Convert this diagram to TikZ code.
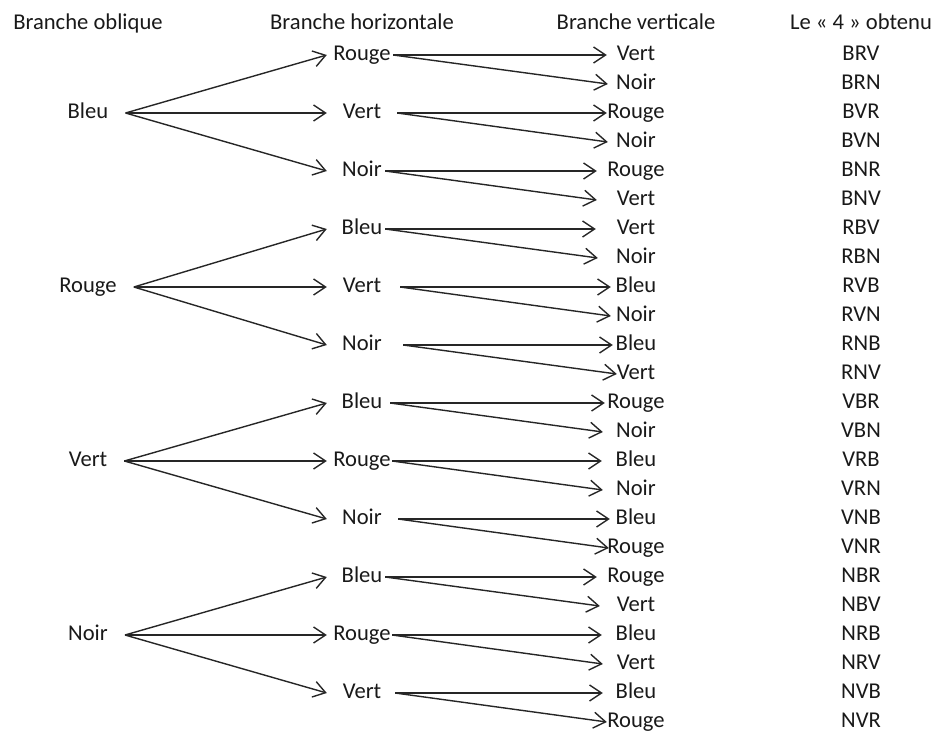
\documentclass[tikz,border=0pt]{standalone}
\usepackage{fontspec}
\setmainfont{Carlito}
\usetikzlibrary{arrows.meta}
\begin{document}
\begin{tikzpicture}[x=1pt,y=-1pt,
  every node/.style={font=\fontsize{22.6}{27}\selectfont, text=black!90, text height=14pt, text depth=4pt, inner ysep=0pt},
  lone/.style={inner xsep=17pt},
  ltwo/.style={minimum width=70pt, inner xsep=0pt},
  lthree/.style={minimum width=58pt, inner xsep=0pt},
  res/.style={inner xsep=0pt},
  hdr/.style={inner xsep=0pt},
  arr/.style={-{Straight Barb[length=12pt,width=16pt]}, line width=1.4pt, draw=black!85}]
\useasboundingbox (0,0) rectangle (934,731);

% headers
\node[hdr] (H1) at (88,24) {Branche oblique};
\node[hdr] (H2) at (362,24) {Branche horizontale};
\node[hdr] (H3) at (636,24) {Branche verticale};
\node[hdr] (H4) at (861,24) {Le « 4 » obtenu};

% level 1
\node[lone] (l0) at (88,113) {Bleu};
\node[lone] (l1) at (88,287) {Rouge};
\node[lone] (l2) at (88,461) {Vert};
\node[lone] (l3) at (88,635) {Noir};

% level 2
\foreach \j/\t/\s in {0/Rouge/-4,1/Vert/0,2/Noir/-12,3/Bleu/-12,4/Vert/3,5/Noir/6,6/Bleu/-7,7/Rouge/-5,8/Noir/1,9/Bleu/-12,10/Rouge/-5,11/Vert/-2}{
  \node[ltwo] (h\j) at (362,55+58*\j) {\t};
  \coordinate (s\j) at ([xshift=\s]h\j.east);
}

% level 3 and results
\foreach \i/\t/\d/\r in {0/Vert/0/BRV,1/Noir/1/BRN,2/Rouge/0/BVR,3/Noir/1/BVN,4/Rouge/-10/BNR,5/Vert/-10/BNV,6/Vert/-11/RBV,7/Noir/-9/RBN,8/Bleu/4/RVB,9/Noir/4/RVN,10/Bleu/6/RNB,11/Vert/10/RNV,12/Rouge/-2/VBR,13/Noir/-4/VBN,14/Bleu/-5/VRB,15/Noir/-4/VRN,16/Bleu/3/VNB,17/Rouge/2/VNR,18/Rouge/-10/NBR,19/Vert/-7/NBV,20/Bleu/-5/NRB,21/Vert/-4/NRV,22/Bleu/-4/NVB,23/Rouge/0/NVR}{
  \node[lthree] (v\i) at (636,55+29*\i) {\t};
  \coordinate (t\i) at ([xshift=\d]v\i.west);
  \node[res] (n\i) at (861,55+29*\i) {\r};
}

% level 1 -> level 2
\foreach \a/\b in {0/0,0/1,0/2,1/3,1/4,1/5,2/6,2/7,2/8,3/9,3/10,3/11}{
  \draw[arr] (l\a.east) -- (h\b.west);
}

% level 2 -> level 3
\foreach \j in {0,...,11}{
  \pgfmathtruncatemacro\ka{2*\j}
  \pgfmathtruncatemacro\kb{2*\j+1}
  \draw[arr] (s\j) -- (t\ka);
  \draw[arr] (s\j) -- (t\kb);
}
\end{tikzpicture}
\end{document}
